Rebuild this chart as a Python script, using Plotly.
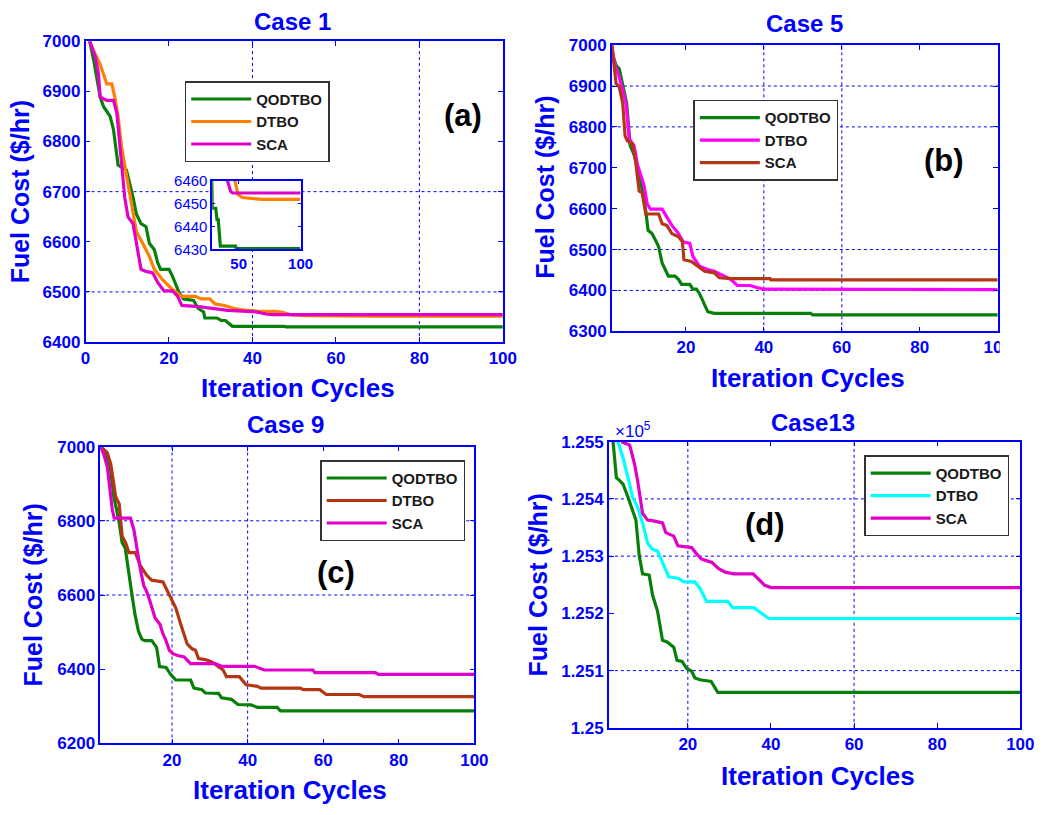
import plotly.graph_objects as go

W, H = 1052, 815
BLUE = "#0000FF"
FONT = "Liberation Sans, Arial, sans-serif"

GREEN = "#087F08"
ORANGE = "#FF8000"
MAGENTA = "#E000C8"
PINK = "#FF00FF"
BROWN = "#B33712"
CYAN = "#00FFFF"

names = ["QODTBO", "DTBO", "SCA"]

# ---------------- Case 1 ----------------
c1_qod_x = [1, 2, 3.5, 4.3, 5.9, 6.7, 7.8, 9.8, 11.4, 12.2, 13.3, 14.5, 15.3, 16.5, 17.3, 18, 20, 20.8,
            22.4, 23.5, 25.9, 27, 28.3, 28.6, 31.5, 32.5, 33.5, 35.2, 47.5, 48, 100]
c1_qod_y = [7000, 6960, 6889, 6870, 6850, 6824, 6753, 6743, 6688, 6655, 6636, 6630, 6597, 6584, 6558, 6545,
            6545, 6532, 6499, 6486, 6483, 6467, 6460, 6448, 6448, 6443, 6443, 6431.4, 6431.4, 6430.3, 6430.3]
c1_dtbo_x = [1, 1.6, 3.5, 4.3, 5.1, 6.3, 7, 7.8, 8.6, 9.8, 11, 12.2, 13.7, 15.3, 16.5, 18.4, 20.8, 23.1,
             26.3, 27.8, 29.8, 31, 33.3, 34.9, 35.7, 38.8, 42, 45, 47, 49.5, 53, 69, 100]
c1_dtbo_y = [7000, 6987, 6954, 6935, 6915, 6915, 6889, 6850, 6792, 6733, 6675, 6620, 6597, 6571, 6545, 6525,
             6505, 6491, 6491, 6486, 6486, 6476, 6473, 6470, 6467, 6463, 6461, 6461, 6460, 6454, 6452.7,
             6451.9, 6451.9]
c1_sca_x = [1, 2.4, 3.1, 3.5, 5.1, 6.7, 7.5, 8.2, 9.4, 10.2, 11.4, 12.2, 13.3, 14.5, 16.1, 17.3, 18.8, 20.8,
            22, 23.1, 26.3, 27.8, 29.4, 34.1, 38.8, 41, 43.5, 45, 100]
c1_sca_y = [7000, 6967, 6935, 6889, 6882, 6882, 6857, 6792, 6688, 6649, 6636, 6597, 6545, 6541, 6538, 6519,
            6502, 6502, 6492, 6473, 6472, 6470, 6468, 6463, 6461, 6460, 6455.4, 6454.7, 6454.7]

# ---------------- Case 5 ----------------
c5_qod_x = [1, 2.1, 2.9, 3.8, 4.8, 5.7, 6.6, 8, 9, 9.7, 10.3, 11.3, 12.2, 13, 13.9, 15.1, 15.5, 17.2, 18.1,
            18.9, 21, 21.8, 22.7, 23.5, 24.4, 25.6, 27.3, 52, 52.5, 100]
c5_qod_y = [6982, 6950, 6942, 6906, 6858, 6754, 6735, 6690, 6640, 6595, 6547, 6539, 6523, 6507, 6467, 6443,
            6435, 6435, 6427, 6415, 6415, 6403, 6403, 6392, 6372, 6348, 6344, 6344, 6340, 6340]
c5_dtbo_x = [1, 1.7, 2.9, 4.6, 5.5, 6.7, 7.6, 8.4, 9.2, 10.1, 10.9, 13.9, 15.1, 16.4, 18.1, 19.3, 21, 21.8,
             23.5, 25.6, 27.3, 29.8, 31.5, 33.2, 36.5, 38.2, 39.9, 100]
c5_dtbo_y = [7000, 6954, 6922, 6858, 6770, 6754, 6707, 6683, 6659, 6611, 6599, 6599, 6579, 6559, 6539, 6519,
             6515, 6483, 6459, 6451, 6447, 6435, 6427, 6412, 6412, 6407, 6403, 6402]
c5_sca_x = [1, 1.7, 2.1, 2.9, 3.8, 4.4, 5, 6.3, 7.1, 8, 8.8, 9.7, 13, 13.9, 15.1, 16.4, 18.1, 19.1, 19.5,
            21.4, 23.1, 24.8, 27.3, 28.6, 31.5, 41.6, 41.8, 100]
c5_sca_y = [7000, 6930, 6906, 6898, 6858, 6778, 6766, 6758, 6715, 6643, 6639, 6587, 6587, 6563, 6559, 6539,
            6531, 6519, 6475, 6471, 6459, 6447, 6443, 6431, 6429, 6429, 6426, 6426]

# ---------------- Case 9 ----------------
c9_qod_x = [1, 2.5, 3.8, 4.6, 5.9, 6.8, 7.6, 8.5, 9.4, 10.2, 11.1, 12, 12.8, 14.6, 15.9, 16.7, 18.4, 19.7,
            21, 24.9, 25.8, 27.9, 28.8, 32.3, 33.1, 35.7, 37.4, 40.9, 42.6, 47.8, 48.7, 100]
c9_qod_y = [7000, 6987, 6934, 6864, 6802, 6741, 6727, 6670, 6600, 6547, 6503, 6481, 6477, 6477, 6459, 6407,
            6405, 6385, 6371, 6371, 6349, 6345, 6336, 6335, 6323, 6319, 6305, 6304, 6297, 6297, 6288, 6288]
c9_dtbo_x = [1, 2.9, 3.8, 4.7, 5.1, 6, 6.8, 7.7, 8.6, 10.3, 11.6, 13.3, 14.6, 17.6, 18.4, 19.7, 21, 22.3,
             24, 25.3, 26.2, 27, 28.8, 30.5, 32.2, 33.5, 34.4, 37.8, 39.6, 42.6, 43.5, 53.9, 54.8, 59.1,
             60.8, 69.5, 70.8, 100]
c9_dtbo_y = [7000, 6982, 6952, 6899, 6864, 6846, 6758, 6741, 6714, 6714, 6679, 6653, 6640, 6635, 6618, 6591,
             6565, 6521, 6468, 6455, 6451, 6429, 6426, 6420, 6407, 6398, 6380, 6380, 6358, 6354, 6349, 6349,
             6345, 6345, 6332, 6332, 6326, 6326]
c9_sca_x = [1, 2, 2.9, 3.6, 4.2, 4.7, 9, 9.9, 10.7, 11.6, 12.5, 13.3, 14.2, 15.5, 16.8, 17.6, 18.4, 19.3,
            20.2, 21.5, 23.2, 24.9, 31.4, 33.1, 41.8, 42.6, 44.4, 57.3, 57.8, 73.8, 74.6, 100]
c9_sca_y = [7000, 6978, 6943, 6873, 6829, 6807, 6807, 6776, 6723, 6670, 6626, 6609, 6582, 6538, 6521, 6495,
            6477, 6451, 6442, 6437, 6433, 6415, 6415, 6408, 6408, 6405, 6398, 6398, 6391, 6391, 6386, 6386]

# ---------------- Case 13 ----------------
c13_qod_x = [2, 2.8, 3.6, 4.4, 5.6, 6.7, 7.5, 8.3, 9.1, 10.7, 11.5, 12.7, 13.9, 15, 16.6, 17.4, 18.6, 19.7,
             20.9, 21.7, 22.9, 25.6, 27.2, 100]
c13_qod_y = [125500, 125437, 125432, 125426, 125403, 125380, 125363, 125301, 125269, 125267, 125232, 125204,
             125153, 125150, 125141, 125118, 125116, 125104, 125099, 125087, 125084, 125081, 125062, 125062]
c13_dtbo_x = [3.2, 4.4, 5.6, 6.7, 7.9, 9.1, 10.3, 11.5, 12.7, 13.9, 15.4, 17.8, 19, 21.7, 22.9, 24.5, 29.6,
              30.8, 35.9, 37.5, 39.5, 100]
c13_dtbo_y = [125500, 125472, 125437, 125403, 125386, 125358, 125323, 125312, 125309, 125289, 125264, 125261,
              125255, 125255, 125244, 125221, 125221, 125210, 125210, 125201, 125191, 125191]
c13_sca_x = [4, 6, 7.2, 7.9, 9.1, 10.3, 11.5, 13.9, 14.7, 16.6, 17.6, 20.9, 22.1, 23.3, 25.8, 27.4, 29, 31,
             35.7, 37.3, 38.5, 40, 100]
c13_sca_y = [125500, 125494, 125460, 125432, 125375, 125363, 125362, 125358, 125341, 125335, 125318, 125315,
             125304, 125295, 125289, 125278, 125272, 125269, 125269, 125258, 125249, 125245, 125245]

# tick values / labels
c1_yticks = [6400, 6500, 6600, 6700, 6800, 6900, 7000]
c5_yticks = [6300, 6400, 6500, 6600, 6700, 6800, 6900, 7000]
c9_yticks = [6200, 6400, 6600, 6800, 7000]
c13_yticks = [125000, 125100, 125200, 125300, 125400, 125500]
c13_ylabels = ["1.25", "1.251", "1.252", "1.253", "1.254", "1.255"]
inset_yticks = [6430, 6440, 6450, 6460]
inset_xticks = [50, 100]

# dotted grid lines that show in the picture
grid_v = {"x": [40, 80], "x2": [40, 60], "x3": [20, 40], "x4": [20, 60], "x5": [50]}
grid_h = {"y": [6500, 6700], "y2": [6400, 6500, 6800, 6900], "y3": [6600, 6800],
          "y4": [125100, 125300, 125400], "y5": []}


def px(x, y):
    # picture pixel -> paper fraction
    return x / W, 1 - y / H


def dom(x0, y0, x1, y1):
    a, b = px(x0, y1)
    c, d = px(x1, y0)
    return [a, c], [b, d]


fig = go.Figure()

panels = [
    ("x", "y", "legend", [c1_qod_x, c1_dtbo_x, c1_sca_x], [c1_qod_y, c1_dtbo_y, c1_sca_y], [GREEN, ORANGE, MAGENTA]),
    ("x2", "y2", "legend2", [c5_qod_x, c5_dtbo_x, c5_sca_x], [c5_qod_y, c5_dtbo_y, c5_sca_y], [GREEN, PINK, BROWN]),
    ("x3", "y3", "legend3", [c9_qod_x, c9_dtbo_x, c9_sca_x], [c9_qod_y, c9_dtbo_y, c9_sca_y], [GREEN, BROWN, MAGENTA]),
    ("x4", "y4", "legend4", [c13_qod_x, c13_dtbo_x, c13_sca_x], [c13_qod_y, c13_dtbo_y, c13_sca_y], [GREEN, CYAN, MAGENTA]),
]
for xa, ya, lg, xs, ys, cols in panels:
    for nm, xv, yv, col in zip(names, xs, ys, cols):
        fig.add_trace(go.Scatter(x=xv, y=yv, mode="lines", name=nm, xaxis=xa, yaxis=ya, legend=lg,
                                 line=dict(color=col, width=3.2)))

# zoomed inset of case 1
for xv, yv, col in zip([c1_qod_x, c1_dtbo_x, c1_sca_x], [c1_qod_y, c1_dtbo_y, c1_sca_y], [GREEN, ORANGE, MAGENTA]):
    fig.add_trace(go.Scatter(x=xv, y=yv, mode="lines", xaxis="x5", yaxis="y5", showlegend=False,
                             line=dict(color=col, width=3.2)))

axis_common = dict(showline=True, linecolor=BLUE, linewidth=1.5, mirror="ticks", ticks="inside",
                   ticklen=5, tickcolor=BLUE, showgrid=False, zeroline=False,
                   tickfont=dict(family=FONT, size=17, color=BLUE, weight="bold"))

dA = dom(82, 33, 507, 341)
dB = dom(618, 37, 1011, 330)
dC = dom(97, 448, 478, 752)
dD = dom(615, 443, 1034, 736)
dI = dom(211, 176, 301, 246)

fig.update_layout(
    xaxis=dict(axis_common, domain=dA[0], range=[0, 100], tickvals=[0, 20, 40, 60, 80, 100], anchor="y"),
    yaxis=dict(axis_common, domain=dA[1], range=[6400, 7000], tickvals=c1_yticks, anchor="x"),
    xaxis2=dict(axis_common, domain=dB[0], range=[1, 100], tickvals=[20, 40, 60, 80, 100], anchor="y2"),
    yaxis2=dict(axis_common, domain=dB[1], range=[6300, 7000], tickvals=c5_yticks, anchor="x2"),
    xaxis3=dict(axis_common, domain=dC[0], range=[1, 100], tickvals=[20, 40, 60, 80, 100], anchor="y3"),
    yaxis3=dict(axis_common, domain=dC[1], range=[6200, 7000], tickvals=c9_yticks, anchor="x3"),
    xaxis4=dict(axis_common, domain=dD[0], range=[1, 100], tickvals=[20, 40, 60, 80, 100], anchor="y4"),
    yaxis4=dict(axis_common, domain=dD[1], range=[125000, 125500], tickvals=c13_yticks,
                ticktext=c13_ylabels, anchor="x4"),
    xaxis5=dict(axis_common, domain=dI[0], range=[28.6, 100], tickvals=inset_xticks, anchor="y5",
                ticklen=3, tickfont=dict(family=FONT, size=15, color=BLUE, weight="bold")),
    yaxis5=dict(axis_common, domain=dI[1], range=[6430, 6460], tickvals=inset_yticks, anchor="x5",
                ticklen=3, tickfont=dict(family=FONT, size=15, color=BLUE)),
)

# legends
leg_common = dict(xanchor="left", yanchor="top", bgcolor="white", bordercolor="#333333", borderwidth=1.5,
                  font=dict(family=FONT, size=15, color="#1a1a1a", weight="bold"), itemwidth=60,
                  tracegroupgap=0)
legpos = {"legend": (183, 74), "legend2": (701, 93), "legend3": (321, 462), "legend4": (875, 457)}
for lg, (lx, ly) in legpos.items():
    x0, y0 = px(lx, ly)
    fig.update_layout({lg: dict(leg_common, x=x0, y=y0)})

# grid lines as dotted shapes
shapes = []
for xa, vals in grid_v.items():
    ya = "y" + xa[1:]
    for v in vals:
        shapes.append(dict(type="line", xref=xa, yref=ya + " domain", x0=v, x1=v, y0=0, y1=1, layer="below",
                           line=dict(color=BLUE, width=1, dash="dot")))
for ya, vals in grid_h.items():
    xa = "x" + ya[1:]
    for v in vals:
        shapes.append(dict(type="line", xref=xa + " domain", yref=ya, x0=0, x1=1, y0=v, y1=v, layer="below",
                           line=dict(color=BLUE, width=1, dash="dot")))
# the source image cuts off the last tick label of case 5
cx0, cy0 = px(1013, 368)
cx1, cy1 = px(1060, 334)
shapes.append(dict(type="rect", xref="paper", yref="paper", x0=cx0, x1=cx1, y0=cy0, y1=cy1,
                   fillcolor="white", line=dict(width=0), layer="above"))
fig.update_layout(shapes=shapes)

ann = []


def text(t, x, y, size, color=BLUE, angle=0, weight="bold"):
    xx, yy = px(x, y)
    ann.append(dict(text=t, x=xx, y=yy, xref="paper", yref="paper", showarrow=False, textangle=angle,
                    xanchor="center", yanchor="middle",
                    font=dict(family=FONT, size=size, color=color, weight=weight)))


for t, x, y in [("Case 1", 293, 13), ("Case 5", 814, 15), ("Case 9", 286, 425), ("Case13", 823, 423)]:
    text(t, x, y, 24)
for x, y in [(15, 187), (550, 183), (29, 600), (543, 590)]:
    text("Fuel Cost ($/hr)", x, y, 25, angle=-90)
for x, y in [(298, 388), (818, 378), (290, 800), (828, 785)]:
    text("Iteration Cycles", x, y, 26)
for t, x, y in [("(a)", 466, 109), ("(b)", 956, 155), ("(c)", 337, 577), ("(d)", 774, 528)]:
    text(t, x, y, 31, color="black")
text("×10<sup>5</sup>", 640, 431, 17, weight="normal")

fig.update_layout(annotations=ann, width=W, height=H, margin=dict(l=0, r=0, t=0, b=0),
                  plot_bgcolor="white", paper_bgcolor="white", showlegend=True)

fig.write_html("out.html", config={"responsive": False, "displayModeBar": False},
               post_script="document.body.style.margin='0';document.body.style.overflow='hidden';"
                           "document.documentElement.style.overflow='hidden';window.scrollTo(0,0);")
